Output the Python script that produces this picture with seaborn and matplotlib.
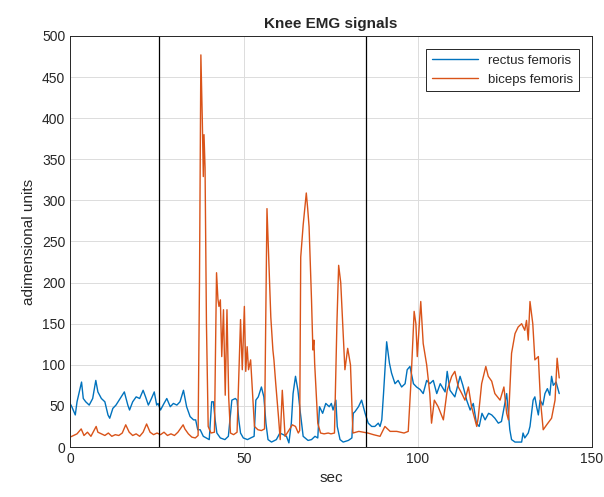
import pandas as pd
import numpy as np
import seaborn as sns
import matplotlib.pyplot as plt

rf = 'rectus femoris'
bf = 'biceps femoris'

# rectus femoris (sec, value)
t_rf = [0, 0.5, 1.5, 2, 3.3, 3.8, 4.5, 5.5, 6.5, 7.4, 8, 9, 10, 10.9, 11.4, 12.3, 13.2, 14.7,
        15.6, 16.6, 17.1, 18, 19, 20, 21, 21.7, 22.5, 23.4, 24.2, 24.9, 25.3, 26, 27, 27.8,
        28.8, 29.7, 30.7, 31.6, 32.6, 33.5, 34.5, 35.5, 36.1, 36.7, 37.4, 38.3, 40, 40.7,
        41.2, 41.7, 42.2, 43.2, 44.5, 45.5, 46.5, 47.5, 48, 48.5, 49, 49.8, 51, 51.9, 52.9,
        53.4, 54.1, 55, 55.7, 56.3, 56.9, 57.9, 59.3, 60.3, 61.3, 62.2, 62.9, 63.6, 64.1,
        64.8, 65.5, 66.1, 67, 68.4, 69.4, 70.4, 71.2, 71.7, 72.6, 73.5, 74.5, 75.1, 75.6,
        76.4, 76.8, 77.6, 78.5, 80, 81, 81.4, 81.9, 82.9, 83.8, 84.3, 84.8, 85.7, 86.7, 87.6,
        88.6, 89.1, 89.6, 90.1, 91, 91.8, 92.4, 93.4, 94.3, 95.3, 96.3, 96.9, 97.7, 98.7,
        99.6, 100.6, 101.5, 102.5, 103.4, 104.4, 105.4, 106.4, 107.8, 108.4, 109.2, 110.6,
        112.1, 112.9, 114, 115, 115.9, 116.8, 117.6, 118.4, 119.3, 120.3, 121.2, 122.1,
        123.1, 124, 125.5, 126.4, 126.9, 127.9, 129.8, 130.2, 130.7, 131.7, 132.2, 133.1,
        133.6, 134.1, 134.6, 135.1, 135.9, 136.5, 137.2, 137.9, 138.4, 138.9, 139.7, 140.6]
v_rf = [53, 49, 39, 55, 79, 59, 55, 51, 59, 81, 67, 59, 55, 39, 35, 47, 51, 61,
        67, 51, 45, 55, 61, 59, 69, 61, 51, 59, 67, 51, 53, 45, 53, 59,
        49, 53, 51, 55, 69, 49, 37, 33, 33, 21, 21, 13, 9, 55,
        55, 33, 17, 11, 9, 13, 57, 59, 57, 33, 17, 11, 9, 11, 13,
        57, 61, 73, 61, 29, 9, 6, 9, 17, 15, 13, 5, 29, 65,
        86, 69, 45, 13, 8, 9, 13, 11, 49, 41, 53, 49, 53, 45,
        57, 25, 9, 6, 8, 11, 41, 43, 49, 57, 49, 41, 29, 25, 25,
        29, 25, 33, 65, 128, 102, 90, 77, 81, 73, 77, 94, 98, 77,
        73, 70, 65, 81, 77, 81, 65, 77, 67, 92, 69, 61,
        86, 75, 57, 45, 53, 29, 25, 41, 33, 41, 39, 35,
        29, 31, 65, 21, 9, 6, 6, 17, 11, 17, 25, 57,
        61, 49, 39, 57, 51, 65, 71, 63, 86, 75, 79, 65]

# biceps femoris
t_bf = [0, 1, 2, 3.2, 4, 5, 6, 7.5, 8, 9, 10, 11, 12, 13, 14, 15, 16, 17, 18, 19, 20, 21,
        22, 23, 24, 25, 26, 27, 28, 29, 30, 31, 32.5, 33, 34, 35, 36, 36.8, 37.2, 37.6, 38.0,
        38.3, 38.5, 38.8, 39.2, 39.7, 40.5, 41.5, 42.1, 42.5, 42.8, 43.2, 43.6, 44.1, 44.6,
        45.1, 45.6, 46.1, 47, 48, 49, 49.5, 50.1, 50.5, 50.9, 51.3, 51.9, 53, 54, 55, 55.9,
        56.6, 57.2, 57.7, 58.3, 58.6, 59.1, 59.9, 60.4, 61, 61.8, 63, 63.9, 64.8, 65.6, 66.0,
        66.3, 67.0, 67.9, 68.3, 68.7, 69.4, 69.8, 70.1, 70.3, 70.6, 71.2, 72, 73, 74.2, 75,
        76, 76.7, 77.2, 77.8, 79, 79.8, 80.6, 81.3, 83, 85.6, 87.2, 89.1, 90.5, 92, 93.9, 96,
        97.2, 98.0, 98.9, 99.4, 99.8, 100.8, 101.5, 102.5, 103.4, 103.9, 104.7, 105.8, 107.3,
        108.4, 109.7, 110.6, 111.6, 112.6, 113.5, 114.5, 115.4, 116.9, 117.3, 118.3, 119.5,
        120.2, 121.2, 122.1, 123.6, 124.7, 125.5, 126.0, 126.9, 127.9, 128.8, 129.8, 130.7,
        131.2, 131.7, 132.2, 133, 133.6, 134.6, 135.2, 136, 137, 138.4, 139.4, 140, 140.6]
v_bf = [12, 14, 16, 22, 14, 18, 13, 25, 18, 16, 14, 17, 13, 15, 14, 17, 27, 18, 14, 16, 13, 18,
        28, 18, 15, 17, 15, 18, 14, 16, 14, 18, 27, 22, 16, 12, 11, 14, 200, 477, 400,
        329, 380, 340, 150, 25, 17, 18, 212, 180, 171, 179, 110, 167, 63,
        167, 60, 17, 15, 18, 155, 94, 171, 92, 122, 94, 106, 25, 21, 20, 22,
        290, 219, 158, 118, 106, 78, 37, 9, 69, 13, 21, 27, 25, 17, 20,
        231, 270, 309, 290, 268, 179, 118, 130, 102, 78, 29, 17, 16, 17, 16,
        17, 150, 221, 200, 94, 120, 100, 17, 19, 17, 15, 13, 25, 19, 19, 17,
        19, 80, 165, 150, 110, 177, 126, 100, 65, 29, 57, 49, 33,
        69, 86, 92, 73, 65, 57, 73, 49, 25, 35, 77, 98,
        86, 80, 65, 57, 73, 41, 33, 114, 138, 146, 150, 142,
        154, 130, 177, 150, 106, 110, 57, 21, 27, 35, 57, 108, 84]

event_times = [25.5, 85]

df = pd.concat([
    pd.DataFrame({'sec': t_rf, 'value': v_rf, 'muscle': rf}),
    pd.DataFrame({'sec': t_bf, 'value': v_bf, 'muscle': bf}),
])

sns.set_style('white')
plt.rcParams['font.family'] = ['Liberation Sans', 'DejaVu Sans']

fig = plt.figure(figsize=(6.04, 4.97), dpi=100)
ax = fig.add_axes([0.116, 0.1006, 0.864, 0.827])
sns.lineplot(data=df, x='sec', y='value', hue='muscle', palette=['#0072BD', '#D95319'],
             linewidth=1.0, ax=ax, estimator=None, sort=False)
for t in event_times:
    ax.axvline(t, color='black', linewidth=0.9)

ax.set_xlim(0, 150)
ax.set_ylim(0, 500)
ax.set_xticks([0, 50, 100, 150])
ax.set_yticks(np.arange(0, 501, 50))
ax.grid(True, color='#dcdcdc', linewidth=0.7)
ax.set_axisbelow(True)
ax.tick_params(direction='in', length=4, labelsize=10, colors='#262626')
for s in ax.spines.values():
    s.set_color('#262626')
    s.set_linewidth(0.7)
ax.set_title('Knee EMG signals', fontsize=11, fontweight='bold')
ax.set_xlabel('sec', fontsize=11, color='#262626')
ax.set_ylabel('adimensional units', fontsize=11, color='#262626')
leg = ax.legend(loc='upper right', fontsize=9.5, fancybox=False, edgecolor='#262626',
                framealpha=1, borderaxespad=1.0, handlelength=3.5)
leg.get_frame().set_linewidth(0.7)
plt.savefig('out.png', dpi=100)
